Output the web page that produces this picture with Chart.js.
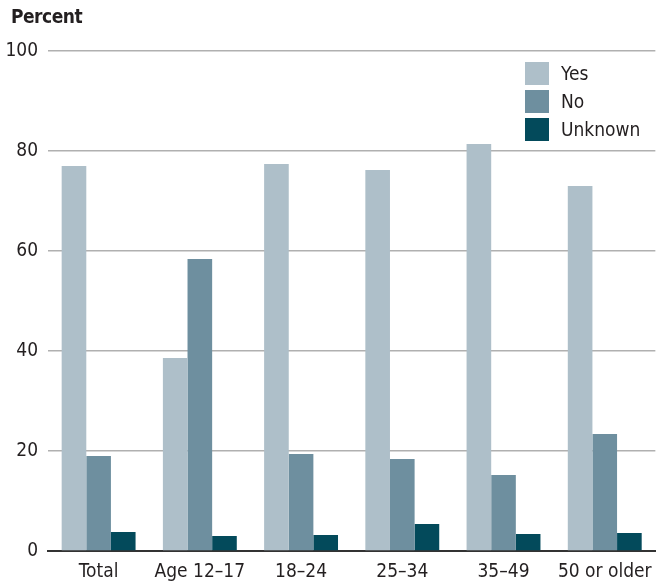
<!DOCTYPE html>
<html>
<head>
<meta charset="utf-8">
<script src="https://cdn.jsdelivr.net/npm/chart.js@4"></script>
<style>
  html, body { margin: 0; padding: 0; background: #fff; }
  #wrap { position: relative; width: 662px; height: 584px; font-family: "DejaVu Sans Condensed", sans-serif; color: #231f20; }
  #title { position: absolute; left: 11px; top: 5px; font-size: 19px; font-weight: bold; letter-spacing: -0.5px; }
  #legend { position: absolute; left: 525px; top: 59px; font-size: 19px; }
  #legend div { height: 28px; display: flex; align-items: center; }
  #legend span.box { width: 24px; height: 23px; margin-right: 12px; display: inline-block; }
</style>
</head>
<body>
<div id="wrap">
  <canvas id="chart" width="662" height="584"></canvas>
  <div id="title">Percent</div>
  <div id="legend"></div>
</div>
<script>
// ===== DATA =====
const categories = ["Total", "Age 12\u201317", "18\u201324", "25\u201334", "35\u201349", "50 or older"];
const yesValues = [77.0, 38.6, 77.4, 76.2, 81.4, 73.0];
const noValues = [19.0, 58.4, 19.4, 18.4, 15.2, 23.4];
const unknownValues = [3.8, 3.0, 3.2, 5.4, 3.4, 3.6];
const yTicks = [0, 20, 40, 60, 80, 100];

const seriesNames = ["Yes", "No", "Unknown"];
const colors = ["#aebfc9", "#6e8f9f", "#034a5b"];

const font = "'DejaVu Sans Condensed', sans-serif";

// ===== CHART =====
const ctx = document.getElementById("chart").getContext("2d");

const chart = new Chart(ctx, {
  type: "bar",
  data: {
    labels: categories,
    datasets: [yesValues, noValues, unknownValues].map((vals, i) => ({
      label: seriesNames[i],
      data: vals,
      backgroundColor: colors[i],
      borderWidth: 0,
      categoryPercentage: 0.73,
      barPercentage: 1.0
    }))
  },
  options: {
    responsive: false,
    animation: false,
    layout: { padding: { top: 51, right: 5, left: 0, bottom: 0 } },
    plugins: {
      legend: { display: false },
      tooltip: { enabled: false }
    },
    scales: {
      x: {
        afterFit: axis => { axis.height = 33; },
        grid: { display: false, drawTicks: false },
        border: { color: "#333", width: 2 },
        ticks: { color: "#231f20", font: { family: font, size: 19 }, padding: 10 }
      },
      y: {
        min: 0,
        max: 100,
        afterFit: axis => { axis.width = 48; },
        afterBuildTicks: axis => { axis.ticks = yTicks.map(v => ({ value: v })); },
        grid: { color: "#b0b0b0", lineWidth: 1.5, drawTicks: false },
        border: { display: false },
        ticks: { color: "#231f20", font: { family: font, size: 19 }, padding: 10 }
      }
    }
  }
});

// ===== LEGEND =====
const legendEl = document.getElementById("legend");
seriesNames.forEach((name, i) => {
  const row = document.createElement("div");
  row.innerHTML = `<span class="box" style="background:${colors[i]}"></span>${name}`;
  legendEl.appendChild(row);
});
</script>
</body>
</html>
